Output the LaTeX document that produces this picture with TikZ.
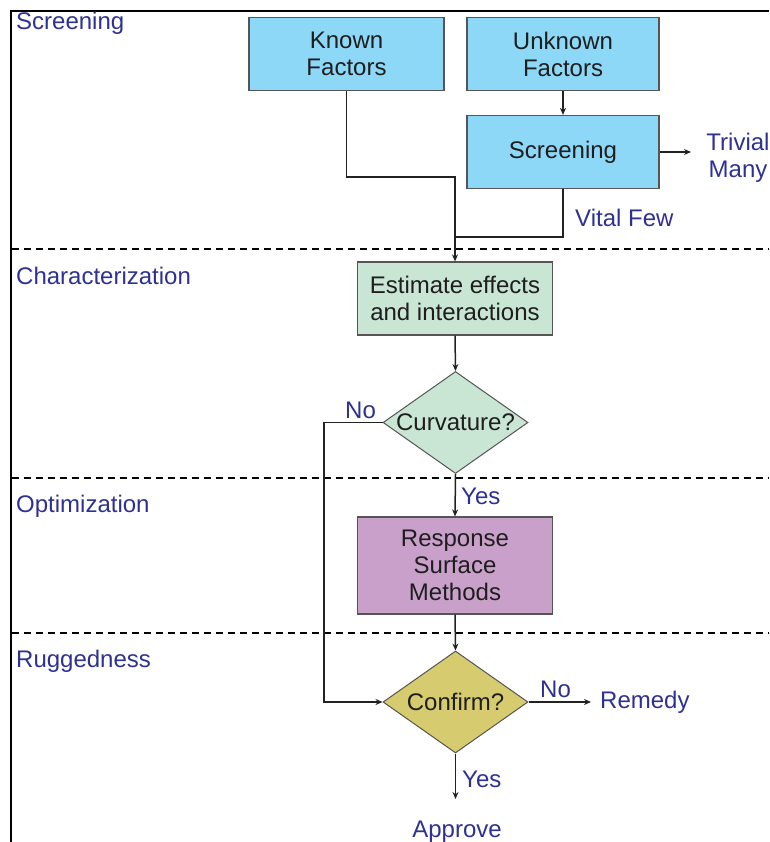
\documentclass[tikz,border=0pt]{standalone}
\usepackage{fontspec}
\setmainfont{Liberation Sans}
\usetikzlibrary{arrows.meta,shapes.geometric}
\definecolor{fblue}{HTML}{8DD8F6}
\definecolor{fgreen}{HTML}{C9E5D3}
\definecolor{fpurple}{HTML}{C8A0C9}
\definecolor{folive}{HTML}{D6CB6E}
\definecolor{lblue}{HTML}{2E3192}
\definecolor{boxline}{HTML}{555555}
\definecolor{lk}{HTML}{222222}
\definecolor{txt}{HTML}{1E1E1E}
\begin{document}
\begin{tikzpicture}[x=1pt,y=-1pt,
  every node/.style={font=\fontsize{24}{27}\selectfont, inner sep=0pt},
  box/.style={draw=boxline, line width=1.2pt, minimum width=195pt, minimum height=73pt, align=center, text=txt},
  dia/.style={shape=diamond, draw=boxline, line width=1pt, minimum width=145pt, minimum height=102pt, text=txt},
  lbl/.style={text=lblue},
  conn/.style={draw=lk, line width=1.5pt},
  arr/.style={conn, -{Stealth[length=7pt,width=6pt]}},
  sep/.style={line width=1.5pt, dash pattern=on 7pt off 5pt}]
\useasboundingbox (0,0) rectangle (769,842);
% frame and separators
\draw[line width=2pt] (11,842) -- (11,11) -- (769,11);
\draw[sep] (12,249) -- (769,249);
\draw[sep] (12,478) -- (769,478);
\draw[sep] (12,633) -- (769,633);
% section labels
\node[lbl, anchor=base west] (lscr) at (16,30) {Screening};
\node[lbl, anchor=base west] (lchar) at (16,284) {Characterization};
\node[lbl, anchor=base west] (lopt) at (16,512) {Optimization};
\node[lbl, anchor=base west] (lrug) at (16,667) {Ruggedness};
% boxes
\node[box, fill=fblue] (known) at (346.5,54) {Known\\Factors};
\node[box, fill=fblue, minimum width=192pt] (unknown) at (563,54) {Unknown\\Factors};
\node[box, fill=fblue, minimum width=192pt] (screen) at (563,152) {Screening};
\node[box, fill=fgreen] (est) at (455,298.5) {Estimate effects\\and interactions};
\node[dia, fill=fgreen] (curv) at (455.5,422.5) {\makebox[0pt]{Curvature?}};
\node[box, fill=fpurple, minimum height=97pt] (rsm) at (455,565.5) {Response\\Surface\\Methods};
\node[dia, fill=folive] (conf) at (455.5,702) {\makebox[0pt]{Confirm?}};
% other labels
\node[lbl, align=center] (triv) at (738,158) {Trivial\\Many};
\node[lbl, anchor=base west] (vital) at (575,226) {Vital Few};
\node[lbl, anchor=base west] (no1) at (345,418) {No};
\node[lbl, anchor=base west] (yes1) at (461,504) {Yes};
\node[lbl, anchor=base west] (no2) at (540,697) {No};
\node[lbl, anchor=base west] (remedy) at (600,708) {Remedy};
\node[lbl, anchor=base west] (yes2) at (462,787) {Yes};
\node[lbl, anchor=base] (approve) at (457,837) {Approve};
% coordinates
\coordinate (kturn) at (346.5,177);
\coordinate (vjoin) at (455,237);
\coordinate (trivend) at (691,152);
\coordinate (noturn) at (324,422.5);
\coordinate (remend) at (591,702);
\coordinate (aprend) at (455.5,799);
% connectors
\draw[arr] (known.south) -- (kturn) -| (est.north);
\draw[conn] (screen.south) |- (vjoin);
\draw[arr] (unknown.south) -- (screen.north);
\draw[arr] (screen.east) -- (trivend);
\draw[arr] (est.south) -- (curv.north);
\draw[arr] (curv.south) -- (rsm.north);
\draw[arr] (rsm.south) -- (conf.north);
\draw[arr] (curv.west) -- (noturn) |- (conf.west);
\draw[arr] (conf.east) -- (remend);
\draw[arr] (conf.south) -- (aprend);
\end{tikzpicture}
\end{document}
